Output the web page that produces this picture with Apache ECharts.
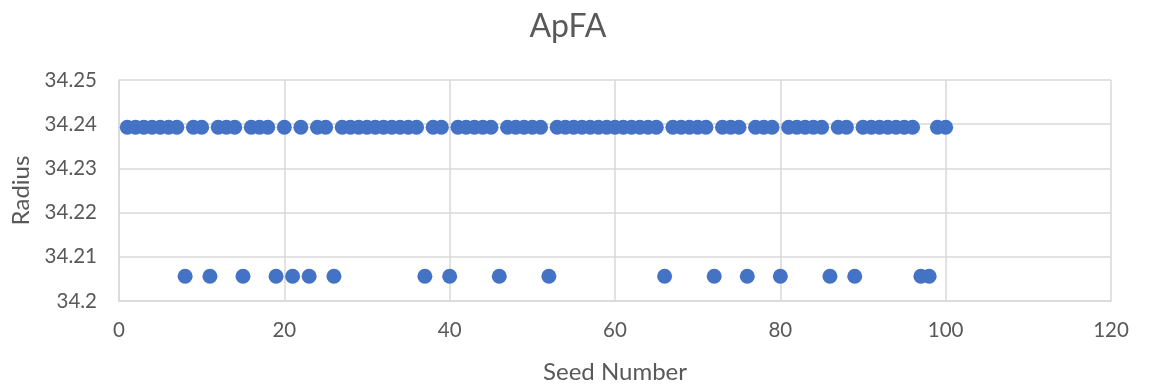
<!DOCTYPE html>
<html>
<head>
<meta charset="utf-8">
<title>ApFA</title>
<script src="https://cdn.jsdelivr.net/npm/echarts@6/dist/echarts.min.js"></script>
<style>
  html, body { margin: 0; padding: 0; background: #ffffff; }
  #chart { width: 1154px; height: 389px; }
</style>
</head>
<body>
<div id="chart"></div>
<script>
// Seed numbers (x) and the radius found for each seed (y)
const seeds = [
  1, 2, 3, 4, 5, 6, 7, 8, 9, 10,
  11, 12, 13, 14, 15, 16, 17, 18, 19, 20,
  21, 22, 23, 24, 25, 26, 27, 28, 29, 30,
  31, 32, 33, 34, 35, 36, 37, 38, 39, 40,
  41, 42, 43, 44, 45, 46, 47, 48, 49, 50,
  51, 52, 53, 54, 55, 56, 57, 58, 59, 60,
  61, 62, 63, 64, 65, 66, 67, 68, 69, 70,
  71, 72, 73, 74, 75, 76, 77, 78, 79, 80,
  81, 82, 83, 84, 85, 86, 87, 88, 89, 90,
  91, 92, 93, 94, 95, 96, 97, 98, 99, 100
];
const radius = [
  34.2393, 34.2393, 34.2393, 34.2393, 34.2393, 34.2393, 34.2393, 34.2056, 34.2393, 34.2393,
  34.2056, 34.2393, 34.2393, 34.2393, 34.2056, 34.2393, 34.2393, 34.2393, 34.2056, 34.2393,
  34.2056, 34.2393, 34.2056, 34.2393, 34.2393, 34.2056, 34.2393, 34.2393, 34.2393, 34.2393,
  34.2393, 34.2393, 34.2393, 34.2393, 34.2393, 34.2393, 34.2056, 34.2393, 34.2393, 34.2056,
  34.2393, 34.2393, 34.2393, 34.2393, 34.2393, 34.2056, 34.2393, 34.2393, 34.2393, 34.2393,
  34.2393, 34.2056, 34.2393, 34.2393, 34.2393, 34.2393, 34.2393, 34.2393, 34.2393, 34.2393,
  34.2393, 34.2393, 34.2393, 34.2393, 34.2393, 34.2056, 34.2393, 34.2393, 34.2393, 34.2393,
  34.2393, 34.2056, 34.2393, 34.2393, 34.2393, 34.2056, 34.2393, 34.2393, 34.2393, 34.2056,
  34.2393, 34.2393, 34.2393, 34.2393, 34.2393, 34.2056, 34.2393, 34.2393, 34.2056, 34.2393,
  34.2393, 34.2393, 34.2393, 34.2393, 34.2393, 34.2393, 34.2056, 34.2056, 34.2393, 34.2393
];

const titleText = 'ApFA';
const xName = 'Seed Number';
const yName = 'Radius';

const textColor = '#595959';
const gridColor = '#d9d9d9';
const font = 'Lato, "Open Sans", sans-serif';

const points = seeds.map((s, i) => [s, radius[i]]);

const chart = echarts.init(document.getElementById('chart'), null, { renderer: 'canvas' });
chart.setOption({
  animation: false,
  backgroundColor: '#ffffff',
  title: {
    text: titleText,
    left: 563,
    top: 6,
    textAlign: 'center',
    textStyle: { color: textColor, fontFamily: font, fontSize: 32, fontWeight: 'normal' }
  },
  grid: { left: 119, right: 43, top: 80, bottom: 86.5, containLabel: false },
  xAxis: {
    type: 'value',
    min: 0,
    max: 120,
    interval: 20,
    name: xName,
    nameLocation: 'middle',
    nameGap: 59,
    nameTextStyle: { color: textColor, fontFamily: font, fontSize: 24 },
    axisLine: { show: true, lineStyle: { color: gridColor, width: 1.5 } },
    axisTick: { show: false },
    axisLabel: { color: textColor, fontFamily: font, fontSize: 20.5, margin: 19 },
    splitLine: { show: true, lineStyle: { color: gridColor, width: 1.5 } }
  },
  yAxis: {
    type: 'value',
    min: 34.2,
    max: 34.25,
    interval: 0.01,
    name: yName,
    nameLocation: 'middle',
    nameGap: 86,
    nameTextStyle: { color: textColor, fontFamily: font, fontSize: 24 },
    axisLine: { show: true, lineStyle: { color: gridColor, width: 1.5 } },
    axisTick: { show: false },
    axisLabel: { color: textColor, fontFamily: font, fontSize: 20.5, margin: 22 },
    splitLine: { show: true, lineStyle: { color: gridColor, width: 1.5 } }
  },
  series: [{
    type: 'scatter',
    data: points,
    symbol: 'circle',
    symbolSize: 15,
    itemStyle: { color: '#4472c4', opacity: 1 }
  }]
});
</script>
</body>
</html>
